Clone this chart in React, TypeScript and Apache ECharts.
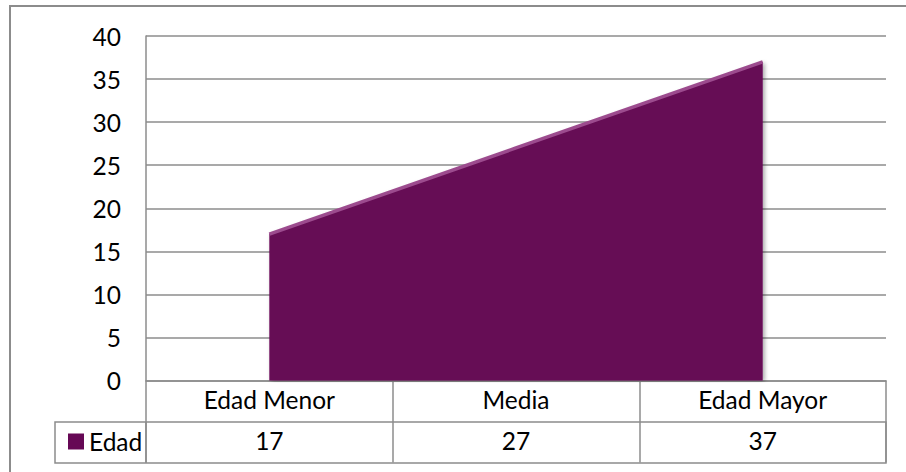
import React, { useEffect, useRef } from "react";
import * as echarts from "echarts";

const categories = ["Edad Menor", "Media", "Edad Mayor"];
const seriesName = "Edad";
const values = [17, 27, 37];
const yMin = 0;
const yMax = 40;
const yInterval = 5;

const FONT = "Lato";
const GRAY = "#8c8c8c";
const PURPLE = "#660855";

export default function App() {
  const ref = useRef<HTMLDivElement>(null);
  useEffect(() => {
    if (!ref.current) return;
    const chart = echarts.init(ref.current, null, { renderer: "svg" });
    chart.setOption({
      animation: false,
      backgroundColor: "#ffffff",
      textStyle: { fontFamily: FONT },
      grid: { left: 146, top: 36, right: 20, bottom: 91.5, containLabel: false },
      legend: {
        data: [seriesName],
        left: 63,
        top: 424,
        icon: "rect",
        itemWidth: 16,
        itemHeight: 16,
        itemGap: 5,
        textStyle: { fontFamily: FONT, fontSize: 24.5, color: "#000" },
        itemStyle: { color: PURPLE },
      },
      xAxis: [
        {
          type: "category",
          data: categories,
          boundaryGap: true,
          axisLine: { show: true, lineStyle: { color: GRAY, width: 1.5 } },
          axisTick: { show: true, interval: 0, length: 82, lineStyle: { color: GRAY, width: 1.5 } },
          axisLabel: { interval: 0, margin: 6, fontSize: 24.5, color: "#000", fontFamily: FONT },
          splitLine: { show: false },
        },
        {
          type: "category",
          data: values.map(String),
          position: "bottom",
          offset: 41,
          boundaryGap: true,
          axisLine: { show: false },
          axisTick: { show: false },
          axisLabel: { interval: 0, margin: 6, fontSize: 24.5, color: "#000", fontFamily: FONT },
        },
      ],
      yAxis: {
        type: "value",
        min: yMin,
        max: yMax,
        interval: yInterval,
        axisLine: { show: true, lineStyle: { color: GRAY, width: 1.5 } },
        axisTick: { show: false },
        axisLabel: { margin: 25, fontSize: 24.5, color: "#000", fontFamily: FONT },
        splitLine: { show: true, lineStyle: { color: GRAY, width: 1.5 } },
      },
      graphic: [
        {
          type: "rect",
          shape: { x: 10, y: 6, width: 1000, height: 1000 },
          style: { fill: "none", stroke: GRAY, lineWidth: 2 },
          silent: true,
        },
        {
          type: "rect",
          shape: { x: 55, y: 422, width: 831, height: 41 },
          style: { fill: "none", stroke: GRAY, lineWidth: 1.5 },
          silent: true,
        },
        {
          type: "line",
          shape: { x1: 146, y1: 422, x2: 146, y2: 463 },
          style: { stroke: GRAY, lineWidth: 1.5 },
          silent: true,
        },
      ],
      series: [
        {
          name: seriesName,
          type: "line",
          data: values,
          showSymbol: false,
          symbol: "none",
          itemStyle: { color: PURPLE },
          lineStyle: { color: "#9c4b8e", width: 3.5 },
          areaStyle: {
            color: PURPLE,
            opacity: 1,
            shadowColor: "rgba(0,0,0,0.35)",
            shadowBlur: 4,
            shadowOffsetX: 2,
            shadowOffsetY: 1,
          },
          z: 3,
        },
      ],
    });
    return () => chart.dispose();
  }, []);
  return (
    <div
      ref={ref}
      style={{ position: "absolute", left: 0, top: 0, width: 906, height: 472 }}
    />
  );
}
